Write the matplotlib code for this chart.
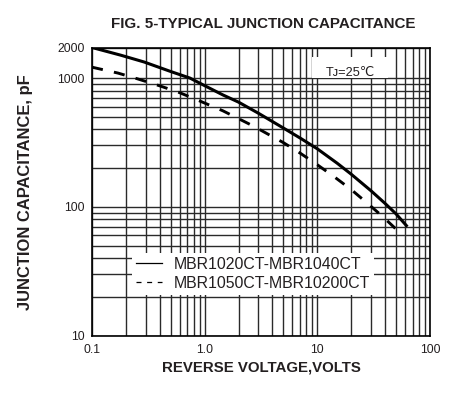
import numpy as np
import matplotlib
matplotlib.use("Agg")
import matplotlib.pyplot as plt
from matplotlib.ticker import FixedLocator, FixedFormatter, NullFormatter
from matplotlib.lines import Line2D
from matplotlib.patches import Rectangle

plt.rcParams['font.family'] = ['Liberation Sans', 'DejaVu Sans']

# ---- data ----
solid_v = [0.1, 0.18, 0.29, 0.5, 0.74, 1.0, 1.45, 2.0, 3.0, 5.0, 7.0, 10, 15, 20, 30, 40, 50, 63]
solid_c = [2000, 1680, 1440, 1160, 1000, 873, 740, 650, 533, 409, 343, 282, 218, 179, 133, 106, 88, 70]
dashed_v = [0.1, 0.17, 0.25, 0.4, 0.6, 0.9, 1.45, 2.7, 5, 7, 10, 14, 20, 28, 38, 55]
dashed_c = [1280, 1120, 990, 870, 770, 665, 557, 424, 315, 262, 212, 172, 136, 106, 84, 62]
series_labels = ["MBR1020CT-MBR1040CT", "MBR1050CT-MBR10200CT"]
x_ticks = [0.1, 1, 10, 100]
x_ticklabels = ["0.1", "1.0", "10", "100"]
y_ticks = [10, 100, 1000, 2000]
y_ticklabels = ["10", "100", "1000", "2000"]
title = "FIG. 5-TYPICAL JUNCTION CAPACITANCE"
xlabel = "REVERSE VOLTAGE,VOLTS"
ylabel = "JUNCTION CAPACITANCE, pF"
note = "T\u1d0a=25\u2103"

# y scale of the reference: log below 1000, compressed 1000-2000 segment
K = 0.789

def fwd(y):
    y = np.clip(np.asarray(y, dtype=float), 1e-12, None)
    l = np.log10(y)
    return np.where(l <= 3, l, 3 + (l - 3) * K)

def inv(u):
    u = np.asarray(u, dtype=float)
    with np.errstate(over='ignore'):
        return np.where(u <= 3, 10.0 ** u, 10.0 ** (3 + (u - 3) / K))

INK = '#231f20'
GRID = '#2a2a2a'

fig = plt.figure(figsize=(4.62, 3.93), dpi=100)
ax = fig.add_axes([92/462, 1-335.5/393, 338/462, 288/393])

ax.set_xscale('log')
ax.set_yscale('function', functions=(fwd, inv))
ax.set_xlim(0.1, 100)
ax.set_ylim(10, 2000)

ax.xaxis.set_major_locator(FixedLocator(x_ticks))
ax.xaxis.set_major_formatter(FixedFormatter(x_ticklabels))
xminor = [m * d for d in [0.1, 1, 10] for m in range(2, 10)]
ax.xaxis.set_minor_locator(FixedLocator(xminor))
ax.xaxis.set_minor_formatter(NullFormatter())

ax.yaxis.set_major_locator(FixedLocator(y_ticks))
ax.yaxis.set_major_formatter(FixedFormatter(y_ticklabels))
yminor = [m * d for d in [10, 100] for m in range(2, 10)]
ax.yaxis.set_minor_locator(FixedLocator(yminor))
ax.yaxis.set_minor_formatter(NullFormatter())

ax.set_axisbelow(True)
ax.grid(True, which='both', color=GRID, linewidth=1.0)
ax.tick_params(which='both', length=0)
ax.tick_params(axis='x', pad=6, labelsize=8.8, labelcolor=INK)
ax.tick_params(axis='y', pad=5.5, labelsize=8.8, labelcolor=INK)
for s in ax.spines.values():
    s.set_color('black')
    s.set_linewidth(1.2)

ax.plot(solid_v, solid_c, color='black', lw=2.2, solid_capstyle='butt',
        solid_joinstyle='round', zorder=3)
ax.plot(dashed_v, dashed_c, color='black', lw=2.1, linestyle=(0, (3.8, 3.9)), zorder=3)

# T_J note box
ax.add_patch(Rectangle((0.651, 0.894), 0.225, 0.073, transform=ax.transAxes,
                       facecolor='white', edgecolor='none', zorder=2))
ax.text(0.763, 0.9, note, transform=ax.transAxes, ha='center', va='baseline',
        fontsize=9.2, color=INK, zorder=4)

# legend
handles = [Line2D([], [], color='black', lw=0.9),
           Line2D([], [], color='black', lw=0.9, linestyle=(0, (4, 4.5)))]
leg = ax.legend(handles, series_labels, loc='center', bbox_to_anchor=(0.476, 0.2135),
                fontsize=11.4, frameon=True, facecolor='white', edgecolor='none',
                framealpha=1, fancybox=False, borderpad=0.25, labelspacing=0.25,
                handlelength=1.65, handletextpad=0.7, borderaxespad=0)
for t in leg.get_texts():
    t.set_color(INK)
leg.set_zorder(5)

fig.text(263/462, 1-24/393, title, ha='center', va='center', fontsize=10.9,
         fontweight='bold', color=INK)
fig.text(261/462, 1-367.7/393, xlabel, ha='center', va='center', fontsize=10.8,
         fontweight='bold', color=INK)
fig.text(25.5/462, 1-192.5/393, ylabel, ha='center', va='center', fontsize=11.9,
         fontweight='bold', color=INK, rotation=90)

fig.savefig('out.png', dpi=100)
